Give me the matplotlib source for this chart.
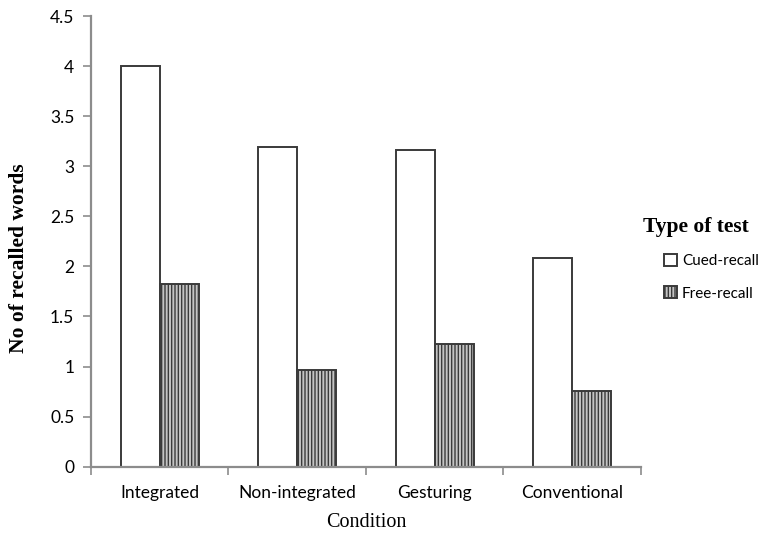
import matplotlib
matplotlib.use("Agg")
import matplotlib.pyplot as plt
import numpy as np
from matplotlib.font_manager import FontProperties

conditions = ["Integrated", "Non-integrated", "Gesturing", "Conventional"]
cued_recall = [4.0, 3.19, 3.16, 2.08]
free_recall = [1.82, 0.965, 1.23, 0.76]
series_names = ["Cued-recall", "Free-recall"]
y_ticks = [0, 0.5, 1, 1.5, 2, 2.5, 3, 3.5, 4, 4.5]
y_tick_labels = ["0", "0.5", "1", "1.5", "2", "2.5", "3", "3.5", "4", "4.5"]

sans = "Lato"
serif = "Liberation Serif"
axis_grey = "#8c8c8c"
bar_edge = "#3a3a3a"

fig = plt.figure(figsize=(7.62, 5.34), dpi=100)
ax = fig.add_axes([0.1194, 0.126, 0.7218, 0.844])

x = np.arange(len(conditions))
width = 0.285
ax.bar(x - width / 2, cued_recall, width, color="white", edgecolor=bar_edge,
       linewidth=1.4, label=series_names[0], zorder=2)
ax.bar(x + width / 2, free_recall, width, color="#c4c4c4", edgecolor=bar_edge,
       linewidth=1.4, hatch="|||||", label=series_names[1], zorder=2)

ax.set_xlim(-0.5, len(conditions) - 0.5)
ax.set_ylim(0, 4.5)
ax.set_yticks(y_ticks)
ax.set_yticklabels(y_tick_labels, fontfamily=sans, fontsize=12.5)
ax.set_xticks(x)
ax.set_xticklabels(conditions, fontfamily=sans, fontsize=12.5)
ax.xaxis.set_minor_locator(matplotlib.ticker.FixedLocator(np.arange(-0.5, len(conditions), 1)))
ax.tick_params(axis="x", which="major", length=0, pad=13)
ax.tick_params(axis="x", which="minor", length=6, color=axis_grey, width=1.2, direction="out")
ax.tick_params(axis="y", length=6, color=axis_grey, width=1.2, direction="out", pad=6)

for side in ("top", "right"):
    ax.spines[side].set_visible(False)
for side in ("left", "bottom"):
    ax.spines[side].set_color(axis_grey)
    ax.spines[side].set_linewidth(1.6)
    ax.spines[side].set_zorder(3)

ax.set_ylabel("No of recalled words", fontfamily=serif, fontweight="bold", fontsize=15.5)
ax.yaxis.set_label_coords(-0.113, 0.463)
ax.set_xlabel("Condition", fontfamily=serif, fontsize=14.5)
ax.xaxis.set_label_coords(0.5, -0.103)

# legend title placed on its own, entries indented beneath it
fig.text(643 / 762, 1 - 227 / 534, "Type of test", fontfamily=serif,
         fontweight="bold", fontsize=15.5, ha="left", va="center")
leg = fig.legend(loc="center left", bbox_to_anchor=(0.862, 0.481), frameon=False,
                 borderpad=0, prop=FontProperties(family=sans, size=11),
                 handlelength=0.85, handleheight=0.85, handletextpad=0.3, labelspacing=1.2)

fig.savefig("out.png", dpi=100)
